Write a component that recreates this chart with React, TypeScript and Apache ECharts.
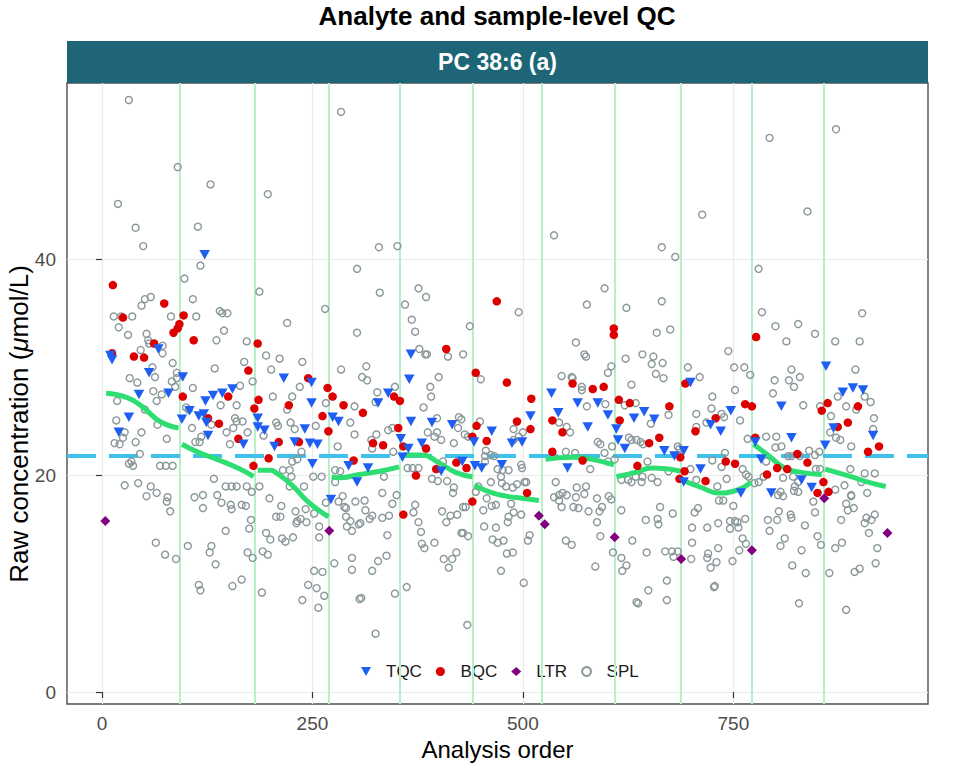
import { useEffect, useRef } from "react";
import * as echarts from "echarts";

const chartTitle = "Analyte and sample-level QC";
const panelTitle = "PC 38:6 (a)";
const legendNames = ["TQC", "BQC", "LTR", "SPL"];

const xTicks = [0, 250, 500, 750];
const yTicks = [0, 20, 40];
const batchBreaks = [93, 182, 270, 354, 441, 522, 609, 688, 772, 857];
const medianConc = 21.8;

// [analysis order, concentration]
const tqcPoints: [number, number][] = [
  [10, 31.1], [12, 30.7], [20, 24.0], [32, 25.4], [44, 27.5], [56, 29.5], [67, 31.7], [79, 27.6],
  [95, 25.2], [96, 29.1], [104, 26.0], [115, 25.5], [121, 25.7], [122, 40.4], [123, 26.9], [124, 24.9],
  [126, 23.7], [132, 27.4], [143, 27.6], [155, 28.0], [168, 22.9], [185, 25.3], [185, 24.5], [193, 24.2],
  [205, 22.7], [216, 29.0], [229, 23.1], [241, 24.3], [247, 23.0], [249, 28.6], [249, 26.7], [250, 21.1],
  [256, 22.9], [272, 17.8], [274, 25.4], [281, 25.0], [293, 20.9], [303, 19.4], [316, 20.7], [328, 26.7],
  [340, 27.6], [355, 23.4], [357, 21.7], [364, 22.5], [365, 28.9], [367, 31.2], [367, 25.0], [380, 23.0],
  [392, 24.9], [403, 20.4], [416, 24.7], [428, 21.3], [442, 23.1], [443, 20.9], [451, 20.7], [463, 24.1],
  [475, 21.0], [487, 23.0], [499, 23.1], [509, 25.5], [534, 27.6], [542, 25.8], [553, 20.7], [565, 26.7],
  [577, 24.5], [589, 26.7], [601, 25.6], [611, 24.3], [613, 23.3], [621, 22.5], [632, 25.3], [644, 25.9],
  [656, 25.2], [668, 22.3], [680, 21.8], [691, 22.3], [691, 19.4], [699, 28.6], [711, 20.6], [723, 24.7],
  [735, 24.1], [747, 26.0], [759, 18.4], [776, 23.1], [783, 21.5], [795, 18.4], [807, 26.4], [819, 23.5],
  [831, 19.6], [843, 18.9], [859, 22.8], [860, 30.1], [869, 24.4], [880, 27.7], [892, 28.1], [904, 27.9],
  [916, 23.7],
];

const bqcPoints: [number, number][] = [
  [12, 31.3], [13, 37.6], [25, 34.6], [38, 31.0], [50, 30.9], [62, 32.2], [74, 35.9], [85, 33.2],
  [90, 33.6], [92, 34.0], [97, 34.8], [96, 27.3], [109, 32.5], [126, 25.3], [139, 24.8], [150, 27.3],
  [162, 23.4], [174, 29.7], [180, 20.9], [181, 26.2], [185, 32.2], [186, 27.0], [198, 21.6], [210, 23.1],
  [222, 26.5], [234, 23.1], [245, 29.0], [262, 25.5], [268, 28.1], [269, 24.1], [274, 27.3], [287, 26.5],
  [299, 21.4], [310, 25.8], [322, 23.0], [334, 22.8], [347, 27.3], [352, 24.4], [354, 26.9], [358, 22.7],
  [358, 16.4], [373, 20.0], [385, 22.5], [397, 20.6], [409, 31.7], [421, 21.2], [433, 20.7], [440, 23.6],
  [440, 17.6], [444, 29.5], [445, 24.6], [457, 23.2], [469, 36.1], [481, 28.6], [493, 25.0], [505, 18.4],
  [509, 24.3], [510, 27.1], [535, 25.1], [535, 22.2], [547, 24.0], [559, 28.5], [571, 21.4], [583, 28.0],
  [596, 28.2], [608, 33.6], [608, 33.0], [614, 27.0], [615, 25.1], [627, 26.7], [636, 20.9], [650, 23.0],
  [662, 23.5], [674, 26.4], [686, 19.7], [687, 21.7], [692, 20.4], [693, 28.5], [705, 24.1], [717, 19.5],
  [729, 25.3], [741, 21.3], [752, 21.1], [764, 26.6], [772, 26.4], [776, 23.5], [777, 32.8], [790, 20.1],
  [802, 20.7], [814, 20.6], [826, 22.0], [838, 21.2], [850, 18.4], [855, 26.0], [857, 19.4], [862, 26.7],
  [863, 18.5], [874, 24.5], [886, 24.9], [898, 26.4], [910, 22.2], [923, 22.7],
];

const ltrPoints: [number, number][] = [
  [4, 15.8], [270, 14.9], [519, 16.3], [526, 15.5], [609, 14.3], [688, 12.3], [772, 13.1], [858, 17.9], [933, 14.7],
];

const splPoints: [number, number][] = [
  // high values
  [19, 45.1], [32, 54.7], [40, 42.9], [49, 41.2], [90, 48.5], [114, 43.0], [129, 46.9], [197, 46.0],
  [284, 53.6], [329, 41.1], [351, 41.2], [537, 42.2], [665, 41.1], [681, 40.2], [713, 44.1], [780, 39.1],
  [793, 51.2], [838, 44.4], [872, 52.0],
  // batches 1-4, upper
  [117, 39.4], [98, 38.2], [108, 36.3], [112, 34.7], [51, 36.3], [58, 36.5], [47, 35.7], [14, 34.7],
  [23, 34.7], [36, 34.7], [20, 33.7], [31, 33.0], [53, 33.1], [55, 32.5], [56, 32.2], [46, 31.6],
  [72, 31.3], [72, 32.0], [82, 34.7], [140, 35.2], [143, 35.0], [149, 35.0], [145, 33.4], [136, 32.5],
  [134, 29.9], [172, 32.4], [187, 37.0], [220, 34.1], [265, 35.4], [303, 39.1], [303, 33.2], [195, 31.1],
  [211, 30.8], [169, 30.5], [201, 29.8], [238, 30.5], [284, 29.8], [84, 30.4], [89, 29.5], [89, 29.0],
  [60, 30.0], [63, 29.1], [33, 29.0], [42, 28.6], [18, 26.9], [61, 27.8], [71, 27.5], [65, 26.9],
  [83, 28.7], [87, 28.2], [108, 28.1], [164, 28.3], [179, 28.7], [235, 28.2], [226, 27.3], [203, 27.3],
  [141, 26.5], [160, 26.5], [220, 26.1], [266, 26.7], [300, 26.4], [51, 26.1], [100, 26.3], [103, 26.1],
  [17, 25.1], [47, 24.0], [40, 23.1], [27, 24.0], [25, 23.5], [15, 23.0], [21, 22.9], [77, 23.4],
  [66, 24.7], [45, 22.0], [32, 21.1], [37, 20.9], [35, 21.3], [69, 20.9], [76, 20.9], [84, 20.9],
  [107, 24.4], [111, 23.1], [116, 23.1], [118, 23.6], [130, 24.7], [148, 24.0], [158, 25.3], [160, 25.0],
  [167, 25.0], [156, 24.4], [152, 22.9], [173, 24.0], [192, 23.7], [207, 24.9], [209, 24.6], [224, 24.9],
  [229, 24.3], [254, 24.6], [223, 20.5], [226, 21.3], [232, 21.5], [240, 19.0], [251, 19.9], [261, 19.9],
  [215, 20.5], [237, 22.2], [280, 22.7], [295, 24.9], [300, 23.8], [277, 20.5], [283, 20.4], [277, 19.4],
  [133, 19.7], [147, 19.0], [154, 19.0], [160, 19.0], [187, 19.0], [27, 19.1], [43, 19.3], [58, 19.0],
  // batches 1-4, lower
  [65, 18.4], [53, 18.1], [78, 18.0], [77, 17.6], [81, 16.7], [110, 18.0], [120, 18.2], [120, 17.0],
  [137, 18.2], [142, 17.5], [153, 17.3], [154, 16.9], [166, 17.3], [171, 17.2], [172, 19.0], [178, 18.5],
  [177, 15.9], [175, 15.1], [147, 14.9], [64, 13.8], [75, 12.7], [88, 12.3], [102, 13.5], [130, 13.5],
  [128, 12.9], [135, 11.8], [115, 9.9], [117, 9.4], [155, 9.8], [166, 10.4], [173, 12.9], [179, 12.4],
  [191, 13.0], [197, 12.7], [190, 9.2], [199, 17.9], [195, 14.7], [200, 14.1], [213, 17.2], [207, 16.2],
  [212, 16.2], [225, 19.9], [223, 19.0], [214, 14.2], [218, 13.9], [227, 14.3], [230, 16.7], [242, 16.9],
  [232, 15.8], [231, 15.6], [236, 16.0], [243, 15.7], [252, 16.5], [258, 15.3], [258, 14.3], [252, 11.2],
  [262, 11.1], [245, 9.9], [255, 9.6], [264, 8.9], [238, 8.5], [257, 7.8], [276, 11.9], [266, 17.5],
  [286, 18.1], [288, 17.1], [290, 17.0], [281, 17.6], [290, 16.2], [295, 15.8], [291, 15.3], [297, 14.9],
  [301, 17.6], [297, 12.4], [297, 11.3], [305, 15.5], [306, 8.6],
  // batches 4-7, upper
  [330, 36.9], [376, 37.3], [385, 36.5], [360, 35.8], [368, 34.4], [372, 33.3], [377, 31.7], [384, 31.2],
  [386, 31.2], [411, 31.0], [429, 31.2], [437, 33.8], [495, 35.1], [576, 35.8], [597, 37.3], [623, 35.5],
  [563, 32.3], [573, 31.2], [575, 31.0], [622, 30.8], [605, 30.1], [601, 29.5], [629, 28.4], [314, 30.1],
  [309, 29.1], [315, 28.8], [400, 29.1], [390, 28.2], [391, 27.3], [382, 26.3], [450, 28.9], [546, 29.2],
  [558, 29.1], [559, 29.0], [570, 28.2], [570, 27.9], [576, 26.4], [598, 26.6], [621, 26.5], [325, 26.8],
  [327, 27.7], [348, 28.2], [398, 25.3], [424, 25.4], [427, 25.2], [449, 25.0], [489, 24.3], [500, 24.0],
  [543, 24.9], [552, 24.5], [556, 24.0], [340, 24.2], [345, 24.4], [326, 23.8], [320, 23.3], [321, 22.5],
  [346, 22.2], [387, 24.0], [395, 23.6], [398, 24.0], [403, 23.3], [418, 23.0], [423, 24.4], [431, 23.8],
  [435, 23.6], [456, 22.3], [455, 21.8], [455, 21.3], [462, 21.9], [466, 21.8], [470, 20.6], [474, 19.9],
  [483, 20.5], [476, 20.5], [489, 23.3], [495, 23.6], [498, 21.0], [499, 20.7], [502, 19.4], [504, 19.4],
  [551, 22.2], [562, 22.1], [580, 20.6], [589, 23.1], [592, 22.9], [597, 22.1], [606, 22.7], [626, 23.5],
  [629, 23.3], [601, 21.3], [609, 21.5], [363, 20.7], [369, 20.7], [376, 20.7], [392, 19.7], [405, 21.3],
  [418, 18.9], [462, 19.4], [335, 19.9], [564, 18.9], [575, 19.0], [539, 19.4],
  // batches 4-7, lower
  [312, 17.7], [313, 16.8], [307, 15.6], [321, 16.3], [318, 16.0], [333, 18.4], [333, 16.1], [341, 16.3],
  [345, 17.4], [350, 18.2], [339, 14.5], [321, 11.2], [328, 12.1], [338, 12.6], [308, 8.7], [325, 5.4],
  [348, 9.1], [362, 9.7], [372, 17.3], [370, 16.6], [376, 15.7], [379, 14.8], [380, 13.7], [383, 13.3],
  [395, 13.8], [399, 19.5], [410, 19.5], [417, 18.4], [404, 16.7], [409, 15.7], [414, 16.3], [422, 16.4],
  [429, 17.1], [432, 17.1], [427, 14.7], [429, 14.7], [435, 14.4], [406, 12.3], [416, 12.3], [412, 11.5],
  [421, 12.9], [434, 6.2], [447, 19.0], [444, 18.5], [453, 16.8], [457, 17.9], [463, 17.2], [468, 17.3],
  [454, 15.3], [468, 15.2], [464, 14.1], [470, 13.8], [477, 14.0], [475, 19.3], [480, 19.0], [488, 18.9],
  [493, 19.2], [486, 17.4], [489, 16.6], [498, 16.4], [483, 16.2], [482, 15.7], [481, 12.8], [488, 12.9],
  [474, 11.2], [501, 10.1], [508, 14.5], [506, 14.0], [537, 18.0], [543, 18.2], [547, 18.4], [552, 18.2],
  [543, 17.7], [546, 17.1], [563, 18.0], [566, 17.0], [560, 17.1], [573, 18.3], [578, 16.7], [588, 17.9],
  [594, 17.1], [591, 16.7], [602, 18.1], [605, 17.8], [588, 15.7], [592, 14.4], [551, 14.0], [558, 13.6],
  [586, 11.6], [607, 12.9], [617, 12.4], [623, 11.7], [618, 11.2], [617, 16.8], [630, 14.0], [635, 8.3],
  [617, 19.6], [625, 19.6], [629, 19.4],
  // batches 8-11, lower
  [641, 19.4], [653, 19.8], [660, 19.4], [646, 15.9], [660, 16.0], [661, 15.5], [663, 17.1], [678, 16.5],
  [647, 12.9], [669, 13.0], [677, 13.0], [684, 13.0], [679, 12.5], [671, 10.3], [649, 9.4], [637, 8.2],
  [671, 8.5], [704, 16.6], [708, 17.0], [701, 15.2], [719, 15.2], [701, 13.8], [700, 12.3], [720, 12.8],
  [719, 12.4], [723, 11.5], [730, 12.0], [732, 13.3], [732, 15.6], [727, 9.7], [728, 9.8], [749, 12.1],
  [757, 13.1], [750, 17.2], [746, 15.8], [746, 15.1], [752, 15.8], [755, 15.7], [756, 15.2], [764, 16.0],
  [761, 14.2], [765, 13.7], [733, 17.7], [738, 17.7], [742, 19.7], [765, 20.1], [780, 19.4], [786, 19.9],
  [804, 16.7], [802, 15.9], [791, 15.9], [793, 14.9], [818, 16.4], [819, 16.1], [835, 15.4], [811, 14.2],
  [806, 13.5], [831, 13.1], [820, 11.7], [836, 11.0], [828, 8.2], [850, 14.4], [854, 13.6], [847, 16.6],
  [845, 17.6], [803, 18.2], [809, 18.1], [806, 18.5], [822, 18.6], [827, 18.5], [823, 19.0], [827, 19.4],
  [821, 19.9], [864, 11.0], [871, 13.3], [879, 13.8], [878, 15.9], [871, 18.7], [882, 19.1], [890, 18.1],
  [884, 17.4], [886, 16.8], [893, 17.0], [890, 18.2], [884, 7.6], [894, 11.1], [900, 11.4], [906, 15.6],
  [908, 16.1], [914, 15.9], [918, 16.4], [911, 14.7], [921, 13.3], [919, 11.9], [909, 18.4], [906, 20.2],
  [918, 20.2], [902, 19.4],
  // batches 8-11, upper
  [665, 36.1], [659, 33.2], [675, 33.5], [642, 31.2], [655, 31.0], [653, 30.3], [666, 30.4], [658, 29.4],
  [667, 29.0], [634, 26.7], [652, 24.8], [673, 25.6], [635, 23.3], [640, 23.1], [643, 22.9], [648, 21.3],
  [634, 19.9], [642, 19.9], [673, 20.4], [684, 22.7], [686, 22.5], [696, 30.0], [710, 29.1], [706, 25.7],
  [706, 24.5], [718, 24.9], [725, 27.3], [724, 26.2], [736, 25.7], [739, 25.4], [740, 22.1], [725, 21.4],
  [736, 20.8], [699, 20.6], [744, 31.5], [751, 30.0], [763, 30.0], [770, 29.3], [752, 27.9], [758, 25.1],
  [767, 23.4], [761, 20.6], [768, 19.9], [784, 35.1], [800, 33.8], [827, 34.0], [847, 33.1], [813, 32.4],
  [819, 29.8], [816, 28.8], [829, 29.1], [822, 28.2], [799, 28.8], [797, 27.6], [833, 26.5], [853, 26.4],
  [871, 32.4], [900, 32.4], [903, 35.0], [895, 29.8], [874, 27.3], [866, 25.5], [884, 26.4], [896, 26.1],
  [906, 27.3], [913, 26.8], [917, 25.3], [865, 24.0], [872, 23.5], [877, 23.3], [890, 22.7], [916, 24.3],
  [819, 21.8], [829, 21.8], [840, 22.3], [852, 22.2], [847, 21.9], [800, 22.6], [807, 22.7], [789, 23.6],
  [801, 23.6], [789, 21.3], [815, 21.8], [848, 20.6], [853, 20.6], [889, 20.6], [706, 19.6], [731, 19.0],
  [775, 19.3], [809, 19.8],
];

// smoothed trend per batch
const loessFits: [number, number][][] = [
  [[5, 27.6], [30, 27.2], [49, 26.3], [69, 25.0], [91, 24.4]],
  [[95, 22.9], [116, 22.1], [140, 21.4], [164, 20.6], [180, 19.9]],
  [[185, 20.5], [200, 20.5], [208, 20.2], [226, 19.1], [246, 17.5], [269, 16.2]],
  [[273, 19.9], [282, 19.8], [306, 20.1], [330, 20.4], [353, 20.8]],
  [[357, 21.9], [380, 21.9], [400, 21.2], [420, 20.3], [440, 19.9]],
  [[443, 19.1], [460, 18.5], [480, 18.1], [499, 17.9], [519, 17.7]],
  [[527, 21.5], [558, 21.7], [582, 21.5], [608, 21.0]],
  [[611, 19.9], [634, 20.3], [653, 20.7], [673, 20.6], [687, 20.4]],
  [[689, 19.6], [712, 18.9], [732, 18.4], [752, 18.6], [771, 19.4]],
  [[774, 22.9], [791, 21.9], [811, 20.7], [831, 20.3], [855, 20.1]],
  [[859, 20.6], [890, 19.9], [910, 19.4], [931, 19.0]],
];

const FONT = "'Liberation Sans', Arial, Helvetica, sans-serif";

export default function App() {
  const chartRef = useRef<HTMLDivElement>(null);

  useEffect(() => {
    document.body.style.margin = "0";
    if (!chartRef.current) return;
    const chart = echarts.init(chartRef.current, null, { renderer: "svg" });

    const loessSeries = loessFits.map((fit, i) => ({
      name: "loess" + i,
      type: "line",
      data: fit,
      smooth: true,
      symbol: "none",
      silent: true,
      lineStyle: { color: "#2ede72", width: 5, opacity: 1 },
      z: 9,
    }));

    const option = {
      animation: false,
      grid: {
        left: 67,
        right: 32,
        top: 83,
        bottom: 64,
        show: true,
        borderColor: "#4d4d4d",
        borderWidth: 1.4,
      },
      graphic: [
        {
          type: "text",
          x: 497,
          y: 16,
          style: {
            text: chartTitle,
            fill: "#000",
            font: `bold 26px ${FONT}`,
            align: "center",
            verticalAlign: "middle",
          },
        },
        {
          type: "rect",
          shape: { x: 67, y: 41, width: 861, height: 42 },
          style: { fill: "#1e6677" },
        },
        {
          type: "text",
          x: 497.5,
          y: 62,
          style: {
            text: panelTitle,
            fill: "#fff",
            font: `bold 23px ${FONT}`,
            align: "center",
            verticalAlign: "middle",
          },
        },
        {
          type: "text",
          x: 19,
          y: 424,
          rotation: Math.PI / 2,
          style: {
            text: "Raw concentration ({i|μ}mol/L)",
            fill: "#000",
            font: `26px ${FONT}`,
            align: "center",
            verticalAlign: "middle",
            rich: {
              i: { fontStyle: "italic", fontSize: 26, fontFamily: FONT, fill: "#000" },
            },
          },
        },
      ],
      legend: {
        data: legendNames,
        left: 356,
        top: 658,
        itemWidth: 10,
        itemHeight: 9,
        itemGap: 14,
        selectedMode: false,
        textStyle: { fontSize: 17, color: "#1a1a1a", fontFamily: FONT, padding: [0, 0, 0, 10] },
      },
      xAxis: {
        type: "value",
        min: -41.5,
        max: 981.2,
        name: "Analysis order",
        nameLocation: "middle",
        nameGap: 33,
        nameTextStyle: { fontSize: 24, color: "#000", fontFamily: FONT },
        axisLine: { show: false },
        axisTick: { show: true, length: 6, customValues: xTicks, lineStyle: { color: "#333", width: 1.2 } },
        axisLabel: { customValues: xTicks, color: "#4d4d4d", fontSize: 19, fontFamily: FONT, margin: 10 },
        splitLine: { show: true, lineStyle: { color: "#ebebeb", width: 1.2 } },
      },
      yAxis: {
        type: "value",
        min: -1.1,
        max: 56.27,
        axisLine: { show: false },
        axisTick: { show: true, length: 6, customValues: yTicks, lineStyle: { color: "#333", width: 1.2 } },
        axisLabel: { customValues: yTicks, color: "#4d4d4d", fontSize: 19, fontFamily: FONT, margin: 11 },
        splitLine: { show: true, lineStyle: { color: "#ebebeb", width: 1.2 } },
      },
      series: [
        {
          name: "guides",
          type: "scatter",
          data: [],
          silent: true,
          markLine: {
            silent: true,
            symbol: ["none", "none"],
            label: { show: false },
            data: [
              ...batchBreaks.map((x) => ({
                xAxis: x,
                lineStyle: { color: "#b5f0c6", width: 2, type: "solid", opacity: 1 },
              })),
              { yAxis: medianConc, lineStyle: { color: "#3fc1ec", width: 4, type: [29, 13], opacity: 1 } },
            ],
          },
        },
        {
          name: "SPL",
          type: "scatter",
          data: splPoints,
          symbol: "circle",
          symbolSize: 7,
          silent: true,
          itemStyle: { color: "rgba(255,255,255,0)", borderColor: "#8a9799", borderWidth: 1.4, opacity: 1 },
          z: 8,
        },
        ...loessSeries,
        {
          name: "BQC",
          type: "scatter",
          data: bqcPoints,
          symbol: "circle",
          symbolSize: 8.5,
          silent: true,
          itemStyle: { color: "#dd0000", opacity: 1 },
          z: 10,
        },
        {
          name: "TQC",
          type: "scatter",
          data: tqcPoints,
          symbol: "path://M0,0L10,0L5,9Z",
          symbolSize: [10.5, 9.5],
          silent: true,
          itemStyle: { color: "#1f5ef2", opacity: 1 },
          z: 11,
        },
        {
          name: "LTR",
          type: "scatter",
          data: ltrPoints,
          symbol: "diamond",
          symbolSize: [10, 10],
          silent: true,
          itemStyle: { color: "#800080", opacity: 1 },
          z: 11,
        },
      ],
    };

    chart.setOption(option);
    return () => chart.dispose();
  }, []);

  return <div ref={chartRef} style={{ width: 960, height: 768 }} />;
}
